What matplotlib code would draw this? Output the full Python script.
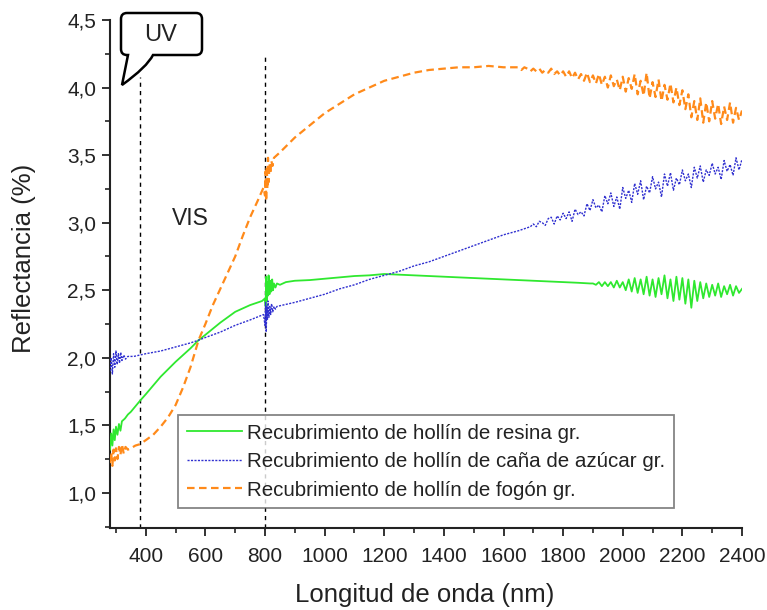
import matplotlib
matplotlib.use("Agg")
import matplotlib.pyplot as plt
from matplotlib.path import Path
from matplotlib.patches import PathPatch
from matplotlib.ticker import MultipleLocator, FuncFormatter

plt.rcParams['font.family'] = ['Liberation Sans', 'DejaVu Sans']

# ---------------- data ----------------
# Recubrimiento de hollín de resina
resina_nm = ([280, 284, 288, 292, 296, 300, 305, 310, 315, 320, 330, 340, 350, 365, 380,
              400, 450, 500, 550, 577, 600, 650, 700, 750, 790, 800,
              802, 804, 806, 808, 810, 812, 815, 818, 821, 824, 827, 830, 835, 840, 850, 870,
              900, 950, 1000, 1050, 1100, 1150, 1200, 1250, 1300, 1350, 1400, 1450, 1500,
              1550, 1600, 1650, 1700, 1750, 1800, 1850, 1890]
             + list(range(1900, 2401, 10)))
resina_pct = [1.32, 1.44, 1.35, 1.47, 1.39, 1.49, 1.43, 1.51, 1.46, 1.53, 1.55, 1.58, 1.60, 1.64, 1.68,
              1.73, 1.86, 1.97, 2.07, 2.13, 2.17, 2.26, 2.34, 2.39, 2.42, 2.44,
              2.38, 2.60, 2.42, 2.56, 2.46, 2.61, 2.47, 2.57, 2.49, 2.58, 2.50, 2.55, 2.52, 2.55, 2.54, 2.56,
              2.57, 2.575, 2.585, 2.595, 2.605, 2.61, 2.62, 2.615, 2.61, 2.605, 2.60, 2.595, 2.59,
              2.585, 2.58, 2.575, 2.57, 2.565, 2.56, 2.555, 2.55,
              2.55, 2.54, 2.56, 2.53, 2.56, 2.53, 2.56, 2.52, 2.57, 2.52,
              2.56, 2.50, 2.58, 2.49, 2.59, 2.48, 2.58, 2.47, 2.60, 2.46,
              2.58, 2.45, 2.59, 2.47, 2.61, 2.44, 2.58, 2.42, 2.60, 2.43,
              2.59, 2.40, 2.58, 2.37, 2.57, 2.42, 2.56, 2.44, 2.55, 2.45,
              2.54, 2.46, 2.55, 2.45, 2.53, 2.47, 2.54, 2.46, 2.53, 2.48,
              2.51]

# Recubrimiento de hollín de caña de azúcar
cana_nm = ([280, 284, 288, 292, 296, 300, 304, 308, 312, 316, 320, 326, 332, 340, 360, 380,
            400, 450, 500, 550, 577, 600, 650, 700, 750, 795,
            800, 802, 804, 806, 808, 810, 813, 816, 819, 822, 826, 830, 835, 840,
            900, 950, 1000, 1050, 1100, 1150, 1200, 1250, 1300, 1350, 1400, 1450, 1500,
            1550, 1600, 1650, 1690]
           + list(range(1700, 2401, 10)))
cana_pct = [1.90, 2.00, 1.88, 2.03, 1.93, 2.05, 1.95, 2.03, 1.96, 2.04, 1.98, 2.02, 1.99, 2.01, 2.01, 2.02,
            2.03, 2.05, 2.08, 2.11, 2.13, 2.15, 2.19, 2.24, 2.28, 2.32,
            2.24, 2.41, 2.19, 2.38, 2.28, 2.42, 2.30, 2.38, 2.32, 2.40, 2.34, 2.38, 2.36, 2.38,
            2.41, 2.44, 2.47, 2.51, 2.54, 2.58, 2.61, 2.64, 2.68, 2.71, 2.75, 2.79, 2.83,
            2.87, 2.91, 2.94, 2.97,
            2.99, 2.97, 3.01, 3.00, 2.98, 3.03, 3.04, 2.99, 3.05, 3.02,
            3.07, 3.03, 3.08, 3.01, 3.10, 3.06, 3.08, 3.05, 3.14, 3.09,
            3.17, 3.11, 3.13, 3.08, 3.20, 3.14, 3.22, 3.12, 3.19, 3.10,
            3.26, 3.18, 3.24, 3.15, 3.29, 3.21, 3.31, 3.17, 3.27, 3.22,
            3.34, 3.25, 3.30, 3.19, 3.36, 3.27, 3.37, 3.24, 3.33, 3.28,
            3.39, 3.31, 3.36, 3.26, 3.41, 3.33, 3.42, 3.30, 3.39, 3.35,
            3.44, 3.36, 3.41, 3.32, 3.46, 3.38, 3.43, 3.35, 3.48, 3.39,
            3.47]

# Recubrimiento de hollín de fogón
fogon_nm = ([280, 284, 288, 292, 296, 300, 305, 310, 315, 320, 326, 332, 340, 350, 365, 380,
             400, 425, 450, 475, 500, 525, 550, 577, 600, 625, 650, 675, 700, 725, 750, 775, 795,
             800, 802, 804, 806, 808, 810, 812, 815, 818, 821, 825, 830, 840,
             850, 900, 950, 1000, 1050, 1100, 1150, 1200, 1250, 1300, 1350, 1400, 1450, 1500,
             1550, 1600, 1640]
            + list(range(1650, 2401, 10)))
fogon_pct = [1.22, 1.30, 1.20, 1.32, 1.24, 1.33, 1.25, 1.34, 1.28, 1.36, 1.29, 1.34, 1.32, 1.33, 1.35, 1.36,
             1.39, 1.43, 1.49, 1.56, 1.65, 1.78, 1.93, 2.13, 2.25, 2.39, 2.51, 2.63, 2.75, 2.90, 3.04, 3.16, 3.26,
             3.20, 3.38, 3.16, 3.42, 3.25, 3.48, 3.30, 3.44, 3.36, 3.46, 3.42, 3.48, 3.50,
             3.52, 3.63, 3.72, 3.81, 3.88, 3.95, 4.00, 4.05, 4.08, 4.11, 4.13, 4.14, 4.15, 4.15,
             4.16, 4.15, 4.15,
             4.15, 4.13, 4.15, 4.14, 4.12, 4.14, 4.12, 4.14, 4.11, 4.13,
             4.11, 4.14, 4.10, 4.12, 4.09, 4.12, 4.08, 4.12, 4.07, 4.11,
             4.06, 4.10, 4.05, 4.11, 4.04, 4.09, 4.03, 4.10, 4.02, 4.08,
             4.00, 4.09, 4.01, 4.06, 3.98, 4.08, 3.97, 4.07, 3.99, 4.10,
             3.95, 4.05, 3.94, 4.11, 3.92, 4.04, 3.93, 4.06, 3.90, 4.02,
             3.91, 4.03, 3.89, 4.00, 3.87, 3.98, 3.84, 3.95, 3.78, 3.90,
             3.76, 3.92, 3.74, 3.89, 3.75, 3.90, 3.77, 3.88, 3.73, 3.86,
             3.76, 3.89, 3.74, 3.85, 3.76, 3.83]

series_labels = ["Recubrimiento de hollín de resina gr.",
                 "Recubrimiento de hollín de caña de azúcar gr.",
                 "Recubrimiento de hollín de fogón gr."]

region_limits_nm = [380, 800]
region_tops = [4.08, 4.23]

# ---------------- figure ----------------
W, H = 767, 610
fig = plt.figure(figsize=(W / 100, H / 100), dpi=100)
ax = fig.add_axes([110 / W, 1 - 528 / H, (742 - 110) / W, (528 - 20) / H])

ink = '#222222'
ax.plot(resina_nm, resina_pct, color='#2fe82f', lw=1.3, label=series_labels[0], zorder=3)
ax.plot(cana_nm, cana_pct, color='#3030d0', lw=1.0, ls=(0, (1.5, 1.0)), label=series_labels[1], zorder=3)
ax.plot(fogon_nm, fogon_pct, color='#ff8a1a', lw=1.6, ls=(0, (3.4, 2.0)), label=series_labels[2], zorder=4)

for xv, top in zip(region_limits_nm, region_tops):
    ax.plot([xv, xv], [0.74, top], color='black', lw=1.0, ls=(0, (3, 3)), zorder=2)

ax.set_xlim(280, 2400)
ax.set_ylim(0.74, 4.5)

for s in ['top', 'right']:
    ax.spines[s].set_visible(False)
for s in ['left', 'bottom']:
    ax.spines[s].set_linewidth(1.5)
    ax.spines[s].set_color(ink)

ax.xaxis.set_minor_locator(MultipleLocator(100))
ax.yaxis.set_major_locator(MultipleLocator(0.5))
ax.yaxis.set_minor_locator(MultipleLocator(0.25))
ax.set_xticks(range(400, 2401, 200))
ax.yaxis.set_major_formatter(FuncFormatter(lambda v, p: f"{v:.1f}".replace('.', ',')))
ax.tick_params(which='major', direction='out', length=6, width=1.3, color=ink,
               labelsize=15, labelcolor=ink)
ax.tick_params(axis='x', which='major', pad=8)
ax.tick_params(axis='y', which='major', pad=4)
ax.tick_params(which='minor', direction='out', length=3.5, width=1.2, color=ink)

ax.set_xlabel('Longitud de onda (nm)', fontsize=18.5, color=ink, va='center')
ax.set_ylabel('Reflectancia (%)', fontsize=18.5, color=ink, va='center')
ax.xaxis.set_label_coords(0.498, -0.132)
ax.yaxis.set_label_coords(-0.136, 0.53)

ax.text(550, 3.03, 'VIS', fontsize=16.5, color=ink, ha='center', va='center')

leg = ax.legend(loc='upper left', bbox_to_anchor=(178 / W, 1 - 415 / H),
                bbox_transform=fig.transFigure, fontsize=14.8, frameon=True,
                fancybox=False, borderaxespad=0, borderpad=0.42, handlelength=2.7,
                handletextpad=0.25, labelspacing=0.46)
leg.get_frame().set_edgecolor('#666666')
leg.get_frame().set_linewidth(1.3)
leg.set_zorder(6)
for t in leg.get_texts():
    t.set_color(ink)

# speech-bubble label for the UV region (figure pixel coordinates)
def fp(px, py):
    return (px / W, 1 - py / H)

r = 6
L, R, T, B = 121, 202, 13, 55
verts = [fp(L + r, T), fp(R - r, T), fp(R, T), fp(R, T + r), fp(R, B - r), fp(R, B), fp(R - r, B),
         fp(153, B), fp(147, 67), fp(122, 85), fp(128, B),
         fp(L + r, B), fp(L, B), fp(L, B - r), fp(L, T + r), fp(L, T), fp(L + r, T), fp(L + r, T)]
codes = [Path.MOVETO, Path.LINETO, Path.CURVE3, Path.CURVE3, Path.LINETO, Path.CURVE3, Path.CURVE3,
         Path.LINETO, Path.CURVE3, Path.CURVE3, Path.LINETO,
         Path.LINETO, Path.CURVE3, Path.CURVE3, Path.LINETO, Path.CURVE3, Path.CURVE3, Path.CLOSEPOLY]
bubble = PathPatch(Path(verts, codes), facecolor='white', edgecolor='black', lw=1.8,
                   transform=fig.transFigure, zorder=10)
fig.patches.append(bubble)
fig.text(161 / W, 1 - 35 / H, 'UV', fontsize=17, color=ink, ha='center', va='center', zorder=11)

fig.savefig('out.png', dpi=100)
